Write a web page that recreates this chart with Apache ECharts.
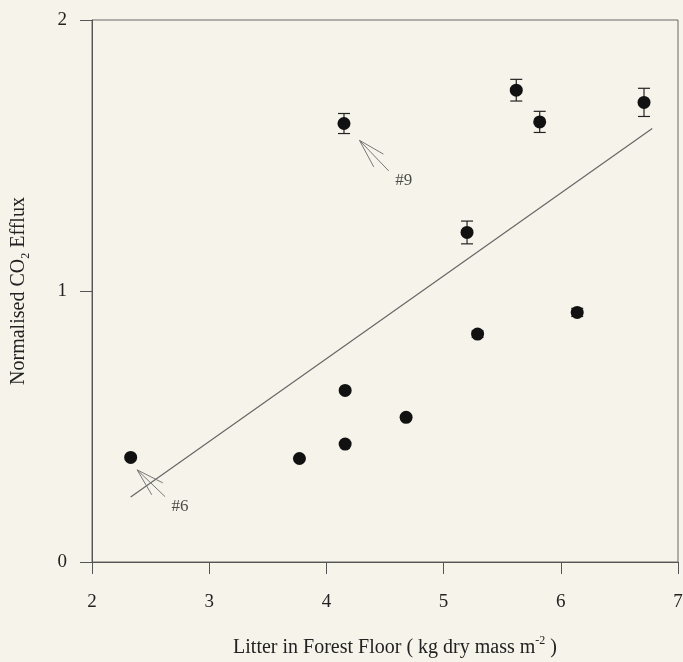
<!DOCTYPE html>
<html>
<head>
<meta charset="utf-8">
<script src="https://cdn.jsdelivr.net/npm/echarts@6/dist/echarts.min.js"></script>
<style>
  html, body { margin: 0; padding: 0; background: #f6f4ea; }
  #main { width: 683px; height: 662px; }
</style>
</head>
<body>
<div id="main"></div>
<script>
// litter mass (kg dry mass m-2) vs normalised CO2 efflux
const litter = [2.33, 3.77, 4.16, 4.16, 4.15, 4.68, 5.20, 5.29, 5.62, 5.82, 6.14, 6.71];
const efflux = [0.386, 0.382, 0.435, 0.633, 1.618, 0.534, 1.216, 0.841, 1.741, 1.624, 0.921, 1.696];
const effluxErr = [0, 0, 0, 0, 0.037, 0, 0.042, 0.012, 0.040, 0.039, 0.015, 0.052];

// regression line end points
const fitX = [2.33, 6.78];
const fitY = [0.24, 1.60];

// annotations (#6, #9) in data coords
const noteLabels = ['#6', '#9'];
const notePos = [[2.75, 0.204], [4.66, 1.409]];
const arrowTips = [[2.385, 0.340], [4.282, 1.556]];
const arrowEnds = [
  [[2.624, 0.241], [2.510, 0.248], [2.604, 0.292]],
  [[4.532, 1.443], [4.404, 1.458], [4.487, 1.505]]
];

const xTicks = [2, 7, 1]; // min, max, interval
const yTicks = [0, 2, 1];

const chart = echarts.init(document.getElementById('main'));

const points = litter.map((x, i) => [x, efflux[i]]);
const errData = litter.map((x, i) => [x, efflux[i] - effluxErr[i], efflux[i] + effluxErr[i]]);
const fitData = fitX.map((x, i) => [x, fitY[i]]);
const arrowData = [];
arrowTips.forEach((tip, i) => {
  arrowEnds[i].forEach(e => arrowData.push({ coords: [tip, e] }));
});
const noteData = notePos.map((p, i) => ({ value: p, name: noteLabels[i] }));

const font = 'Liberation Serif';

const option = {
  backgroundColor: '#f6f4ea',
  animation: false,
  textStyle: { fontFamily: font },
  grid: {
    left: 92, right: 5, top: 20, bottom: 100,
    outerBoundsMode: 'none',
    containLabel: false,
    show: true, borderColor: '#666', borderWidth: 1,
    backgroundColor: 'transparent'
  },
  xAxis: {
    type: 'value',
    min: xTicks[0], max: xTicks[1], interval: xTicks[2],
    name: 'Litter in Forest Floor ( kg dry mass m{sup|-2} )',
    nameLocation: 'middle',
    nameGap: 73,
    nameTextStyle: {
      fontFamily: font, fontSize: 20, color: '#222', lineHeight: 26,
      padding: [0, 0, 0, 20],
      rich: { sup: { fontFamily: font, fontSize: 12, color: '#222', verticalAlign: 'top', lineHeight: 26 } }
    },
    axisLine: { onZero: false, lineStyle: { color: '#555', width: 1 } },
    axisTick: { show: true, inside: false, length: 12, lineStyle: { color: '#555' } },
    axisLabel: { fontFamily: font, fontSize: 19, color: '#222', margin: 31 },
    splitLine: { show: false }
  },
  yAxis: {
    type: 'value',
    min: yTicks[0], max: yTicks[1], interval: yTicks[2],
    name: 'Normalised CO{sub|2} Efflux',
    nameLocation: 'middle',
    nameGap: 60,
    nameTextStyle: {
      fontFamily: font, fontSize: 20, color: '#222', lineHeight: 26,
      rich: { sub: { fontFamily: font, fontSize: 12, color: '#222', verticalAlign: 'bottom', lineHeight: 26 } }
    },
    axisLine: { onZero: false, lineStyle: { color: '#555', width: 1 } },
    axisTick: { show: true, inside: false, length: 12, lineStyle: { color: '#555' } },
    axisLabel: { fontFamily: font, fontSize: 19, color: '#222', margin: 25 },
    splitLine: { show: false }
  },
  series: [
    {
      name: 'fit',
      type: 'line',
      data: fitData,
      showSymbol: false,
      lineStyle: { color: '#666', width: 1.2 },
      z: 2
    },
    {
      name: 'err',
      type: 'custom',
      data: errData,
      z: 3,
      renderItem: function (params, api) {
        const x = api.value(0);
        const lo = api.coord([x, api.value(1)]);
        const hi = api.coord([x, api.value(2)]);
        if (hi[1] === lo[1]) return null;
        const hw = 6;
        const st = { stroke: '#222', lineWidth: 1.2 };
        return {
          type: 'group',
          children: [
            { type: 'line', shape: { x1: lo[0], y1: lo[1], x2: hi[0], y2: hi[1] }, style: st },
            { type: 'line', shape: { x1: lo[0] - hw, y1: lo[1], x2: lo[0] + hw, y2: lo[1] }, style: st },
            { type: 'line', shape: { x1: hi[0] - hw, y1: hi[1], x2: hi[0] + hw, y2: hi[1] }, style: st }
          ]
        };
      }
    },
    {
      name: 'data',
      type: 'scatter',
      data: points,
      symbol: 'circle',
      symbolSize: 13,
      itemStyle: { color: '#111', opacity: 1 },
      z: 4
    },
    {
      name: 'arrows',
      type: 'lines',
      coordinateSystem: 'cartesian2d',
      data: arrowData,
      lineStyle: { color: '#777', width: 1, opacity: 1 },
      z: 3
    },
    {
      name: 'notes',
      type: 'scatter',
      data: noteData,
      symbolSize: 0,
      label: {
        show: true, position: 'inside', formatter: '{b}',
        fontFamily: font, fontSize: 17, color: '#222'
      },
      z: 5
    }
  ]
};

chart.setOption(option);
</script>
</body>
</html>
